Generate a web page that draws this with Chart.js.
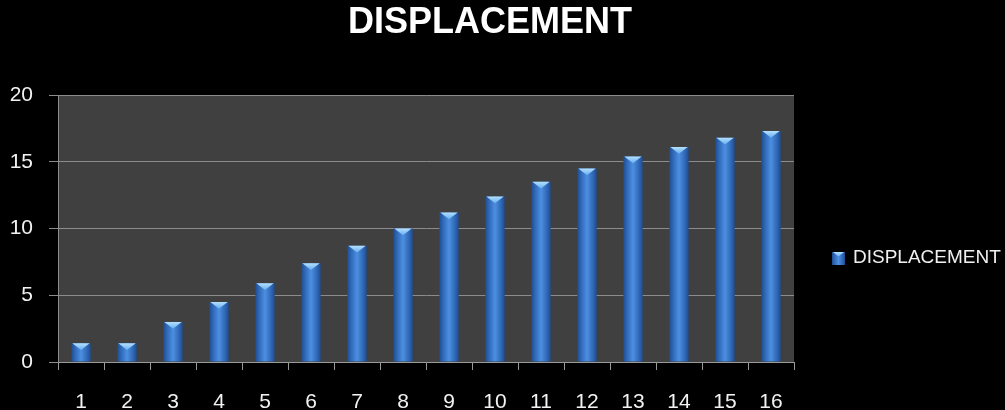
<!DOCTYPE html>
<html>
<head>
<meta charset="utf-8">
<script src="https://cdn.jsdelivr.net/npm/chart.js@4/dist/chart.umd.min.js"></script>
<style>
  html, body { margin: 0; padding: 0; background: #000; }
  #wrap { width: 1005px; height: 410px; position: relative; }
</style>
</head>
<body>
<div id="wrap"><canvas id="displacement"></canvas></div>
<script>
const labels = ['1', '2', '3', '4', '5', '6', '7', '8', '9', '10', '11', '12', '13', '14', '15', '16'];
const displacement = [1.4, 1.4, 3.0, 4.5, 5.9, 7.4, 8.7, 10.0, 11.2, 12.4, 13.5, 14.5, 15.4, 16.1, 16.8, 17.3];
const yTicks = [0, 5, 10, 15, 20];
const seriesName = 'DISPLACEMENT';
const chartTitle = 'DISPLACEMENT';

const BAR_PCT = 0.42;
const font = '"Liberation Sans", Arial, sans-serif';

function barGradient(ctx, x0, x1) {
  const g = ctx.createLinearGradient(x0, 0, x1, 0);
  g.addColorStop(0, '#1f4c8e');
  g.addColorStop(0.18, '#2f67b6');
  g.addColorStop(0.5, '#4c8fe0');
  g.addColorStop(0.82, '#2f67b6');
  g.addColorStop(1, '#1f4c8e');
  return g;
}

function drawCap(ctx, x, y, w) {
  const depth = Math.min(7, w * 0.35);
  const g = ctx.createLinearGradient(0, y, 0, y + depth);
  g.addColorStop(0, '#b4e0ff');
  g.addColorStop(1, '#66aef0');
  ctx.fillStyle = g;
  ctx.beginPath();
  ctx.moveTo(x - w / 2 + 1, y);
  ctx.lineTo(x + w / 2 - 1, y);
  ctx.lineTo(x, y + depth);
  ctx.closePath();
  ctx.fill();
}

const decor = {
  id: 'decor',
  beforeDraw(chart) {
    const a = chart.chartArea;
    const ctx = chart.ctx;
    ctx.save();
    ctx.fillStyle = '#404040';
    ctx.fillRect(a.left, a.top, a.right - a.left, a.bottom - a.top);
    ctx.restore();
  },
  afterDatasetsDraw(chart) {
    const ctx = chart.ctx;
    ctx.save();
    chart.getDatasetMeta(0).data.forEach(bar => {
      drawCap(ctx, bar.x, bar.y, bar.width);
    });
    ctx.restore();
  },
  afterDraw(chart) {
    const ctx = chart.ctx;
    ctx.save();
    // title
    ctx.fillStyle = '#ffffff';
    ctx.font = 'bold 36px ' + font;
    ctx.textAlign = 'center';
    ctx.textBaseline = 'middle';
    ctx.fillText(chartTitle, 490, 23);
    // legend
    const mx = 832, my = 252, ms = 13;
    ctx.fillStyle = barGradient(ctx, mx, mx + ms);
    ctx.fillRect(mx, my, ms, ms);
    drawCap(ctx, mx + ms / 2, my, ms);
    ctx.fillStyle = '#f0f0f0';
    ctx.font = '19px ' + font;
    ctx.textAlign = 'left';
    ctx.textBaseline = 'middle';
    ctx.fillText(seriesName, 853, 258);
    ctx.restore();
  }
};

new Chart(document.getElementById('displacement'), {
  type: 'bar',
  data: {
    labels: labels,
    datasets: [{
      label: seriesName,
      data: displacement,
      borderWidth: 0,
      barPercentage: BAR_PCT,
      categoryPercentage: 1,
      backgroundColor: (c) => {
        const xs = c.chart.scales.x;
        if (!xs || c.dataIndex === undefined) return '#3f7fd0';
        const cx = xs.getPixelForValue(c.dataIndex);
        const w = (xs.width / labels.length) * BAR_PCT;
        if (!isFinite(cx) || !isFinite(w) || w <= 0) return '#3f7fd0';
        return barGradient(c.chart.ctx, cx - w / 2, cx + w / 2);
      }
    }]
  },
  options: {
    responsive: true,
    maintainAspectRatio: false,
    animation: false,
    layout: {
      padding: { top: 95, right: 211, left: 0, bottom: 0 }
    },
    plugins: {
      legend: { display: false },
      title: { display: false },
      tooltip: { enabled: false }
    },
    scales: {
      x: {
        offset: true,
        grid: {
          offset: true,
          drawOnChartArea: false,
          drawTicks: true,
          tickLength: 8,
          color: '#9a9a9a'
        },
        border: { color: '#9a9a9a' },
        ticks: {
          color: '#f2f2f2',
          padding: 20,
          font: { family: font, size: 21 },
          maxRotation: 0
        },
        afterFit: (scale) => { scale.height = 48; }
      },
      y: {
        min: 0,
        max: 20,
        afterBuildTicks: (scale) => {
          scale.ticks = yTicks.map(v => ({ value: v }));
        },
        grid: {
          color: '#8c8c8c',
          tickLength: 9
        },
        border: { color: '#8c8c8c' },
        ticks: {
          color: '#f2f2f2',
          padding: 16,
          font: { family: font, size: 21 }
        },
        afterFit: (scale) => { scale.width = 58; }
      }
    }
  },
  plugins: [decor]
});
</script>
</body>
</html>
